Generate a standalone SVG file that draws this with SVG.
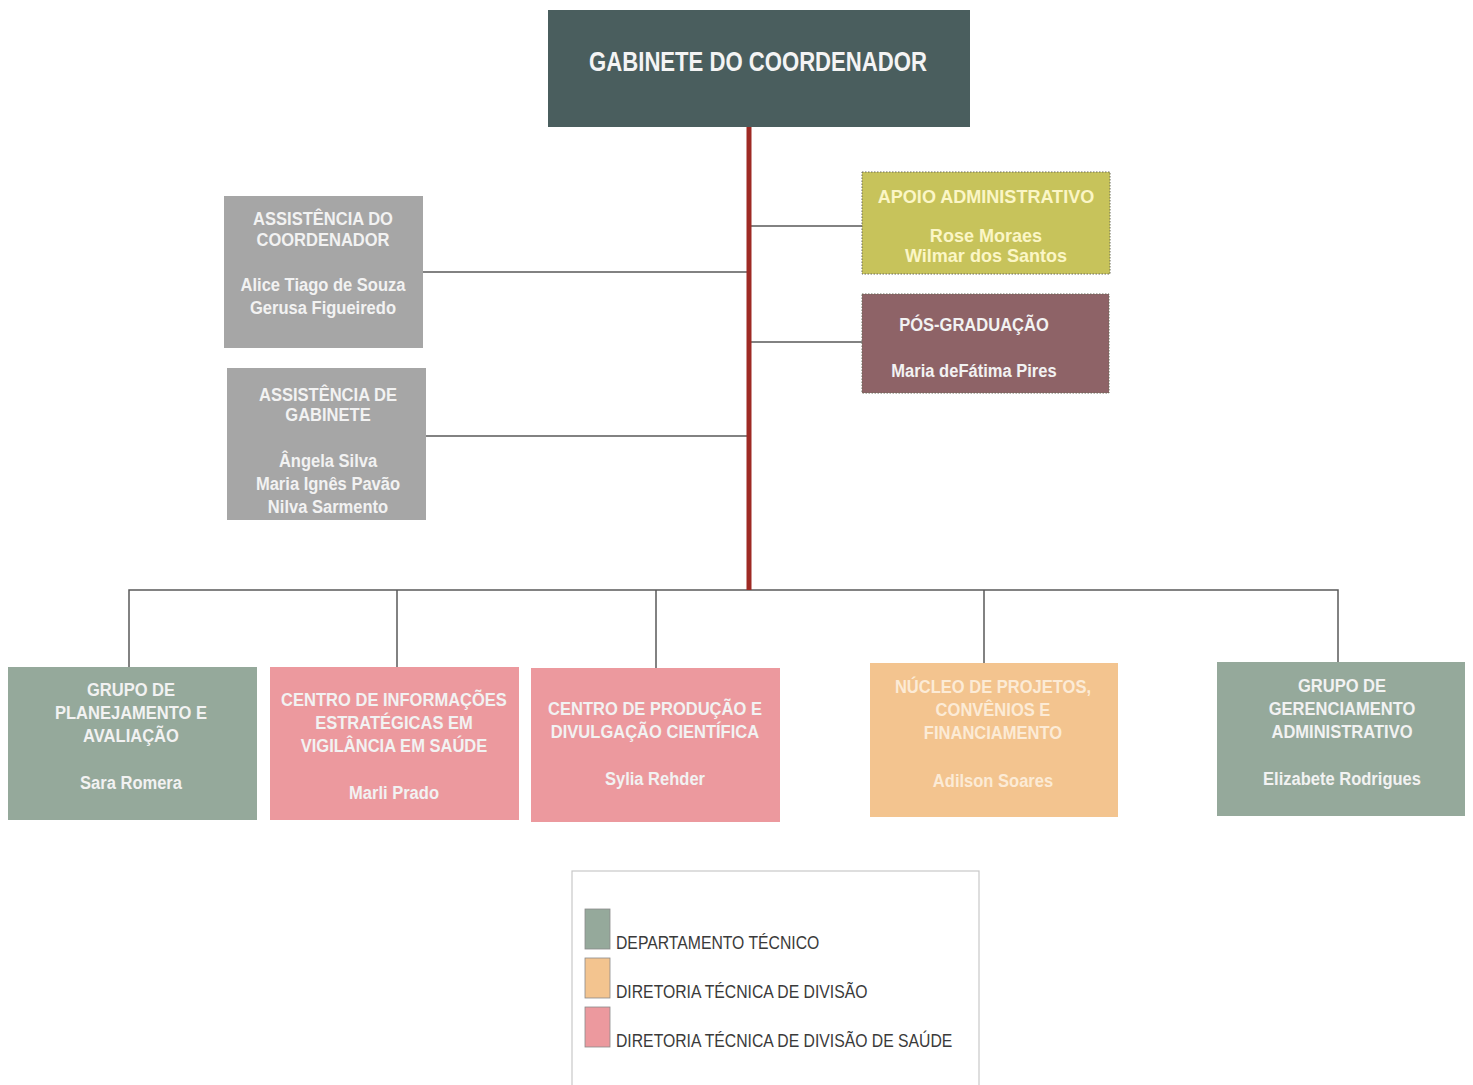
<svg xmlns="http://www.w3.org/2000/svg" width="1473" height="1085" viewBox="0 0 1473 1085">
  <style>
    .t { font-family: "Liberation Sans", Arial, sans-serif; font-weight: bold; text-anchor: middle; }
    .w { fill: #f2f2f2; font-size: 19px; }
    .y { fill: #fbf6c6; font-size: 19px; }
    .o { fill: #fcebd6; font-size: 19px; }
    .conn { stroke: #5a5a5a; stroke-width: 1.5; fill: none; }
    .trunk { stroke: #9e2a24; stroke-width: 5; fill: none; }
    .dot { stroke: #6b6b5a; stroke-width: 1; stroke-dasharray: 1.5 1.5; }
    .leg { font-family: "Liberation Sans", Arial, sans-serif; font-size: 19px; fill: #3a3a3a; }
  </style>
  <rect width="1473" height="1085" fill="#ffffff"/>

  <!-- connectors -->
  <g id="connectors">
    <path class="conn" d="M423 272 H749 M426 436 H749 M749 226 H862 M749 342 H862"/>
    <path class="conn" d="M129 667 V590 H1338 V662 M397 590 V667 M656 590 V668 M984 590 V663"/>
    <path class="trunk" d="M749 127 V590"/>
  </g>

  <!-- labels are set in a condensed width by horizontal scaling around each box centre -->
  <g id="gabinete">
    <rect x="548" y="10" width="422" height="117" fill="#4a5e5e"/>
    <g transform="translate(758 0) scale(0.79 1)">
      <text class="t" x="0" y="71" font-size="28" fill="#f4f4f4">GABINETE DO COORDENADOR</text>
    </g>
  </g>

  <g id="assist-coord">
    <rect x="224" y="196" width="199" height="152" fill="#a6a6a6"/>
    <g transform="translate(323 0) scale(0.87 1)">
      <text class="t w" x="0" y="225">ASSISTÊNCIA DO</text>
      <text class="t w" x="0" y="246">COORDENADOR</text>
      <text class="t w" x="0" y="291">Alice Tiago de Souza</text>
      <text class="t w" x="0" y="314">Gerusa Figueiredo</text>
    </g>
  </g>

  <g id="assist-gab">
    <rect x="227" y="368" width="199" height="152" fill="#a6a6a6"/>
    <g transform="translate(328 0) scale(0.87 1)">
      <text class="t w" x="0" y="401">ASSISTÊNCIA DE</text>
      <text class="t w" x="0" y="421">GABINETE</text>
      <text class="t w" x="0" y="467">Ângela Silva</text>
      <text class="t w" x="0" y="490">Maria Ignês Pavão</text>
      <text class="t w" x="0" y="513">Nilva Sarmento</text>
    </g>
  </g>

  <g id="apoio">
    <rect class="dot" x="862" y="172" width="248" height="102" fill="#c7c35b"/>
    <g transform="translate(986 0) scale(0.95 1)">
      <text class="t y" x="0" y="203">APOIO ADMINISTRATIVO</text>
      <text class="t y" x="0" y="242">Rose Moraes</text>
      <text class="t y" x="0" y="262">Wilmar dos Santos</text>
    </g>
  </g>

  <g id="pos">
    <rect class="dot" x="862" y="294" width="247" height="99" fill="#8e6367"/>
    <g transform="translate(974 0) scale(0.87 1)">
      <text class="t w" x="0" y="331">PÓS-GRADUAÇÃO</text>
      <text class="t w" x="0" y="377">Maria deFátima Pires</text>
    </g>
  </g>

  <g id="planejamento">
    <rect x="8" y="667" width="249" height="153" fill="#95a99b"/>
    <g transform="translate(131 0) scale(0.87 1)">
      <text class="t w" x="0" y="696">GRUPO DE</text>
      <text class="t w" x="0" y="719">PLANEJAMENTO E</text>
      <text class="t w" x="0" y="742">AVALIAÇÃO</text>
      <text class="t w" x="0" y="789">Sara Romera</text>
    </g>
  </g>

  <g id="cievs">
    <rect x="270" y="667" width="249" height="153" fill="#ec999e"/>
    <g transform="translate(394 0) scale(0.87 1)">
      <text class="t w" x="0" y="706">CENTRO DE INFORMAÇÕES</text>
      <text class="t w" x="0" y="729">ESTRATÉGICAS EM</text>
      <text class="t w" x="0" y="752">VIGILÂNCIA EM SAÚDE</text>
      <text class="t w" x="0" y="799">Marli Prado</text>
    </g>
  </g>

  <g id="producao">
    <rect x="531" y="668" width="249" height="154" fill="#ec999e"/>
    <g transform="translate(655 0) scale(0.87 1)">
      <text class="t w" x="0" y="715">CENTRO DE PRODUÇÃO E</text>
      <text class="t w" x="0" y="738">DIVULGAÇÃO CIENTÍFICA</text>
      <text class="t w" x="0" y="785">Sylia Rehder</text>
    </g>
  </g>

  <g id="nucleo">
    <rect x="870" y="663" width="248" height="154" fill="#f3c48f"/>
    <g transform="translate(993 0) scale(0.87 1)">
      <text class="t o" x="0" y="693">NÚCLEO DE PROJETOS,</text>
      <text class="t o" x="0" y="716">CONVÊNIOS E</text>
      <text class="t o" x="0" y="739">FINANCIAMENTO</text>
      <text class="t o" x="0" y="787">Adilson Soares</text>
    </g>
  </g>

  <g id="gerenciamento">
    <rect x="1217" y="662" width="248" height="154" fill="#95a99b"/>
    <g transform="translate(1342 0) scale(0.87 1)">
      <text class="t w" x="0" y="692">GRUPO DE</text>
      <text class="t w" x="0" y="715">GERENCIAMENTO</text>
      <text class="t w" x="0" y="738">ADMINISTRATIVO</text>
      <text class="t w" x="0" y="785">Elizabete Rodrigues</text>
    </g>
  </g>

  <g id="legenda">
    <rect x="572" y="871" width="407" height="220" fill="#ffffff" stroke="#c8c8c8" stroke-width="1.2"/>
    <rect x="585" y="909" width="25" height="40" fill="#95a99b" stroke="#8a8a8a" stroke-width="0.8"/>
    <rect x="585" y="958" width="25" height="40" fill="#f3c48f" stroke="#8a8a8a" stroke-width="0.8"/>
    <rect x="585" y="1007" width="25" height="40" fill="#ec999e" stroke="#8a8a8a" stroke-width="0.8"/>
    <g transform="translate(616 0) scale(0.83 1)">
      <text class="leg" x="0" y="949">DEPARTAMENTO TÉCNICO</text>
      <text class="leg" x="0" y="998">DIRETORIA TÉCNICA DE DIVISÃO</text>
      <text class="leg" x="0" y="1047">DIRETORIA TÉCNICA DE DIVISÃO DE SAÚDE</text>
    </g>
  </g>
</svg>
